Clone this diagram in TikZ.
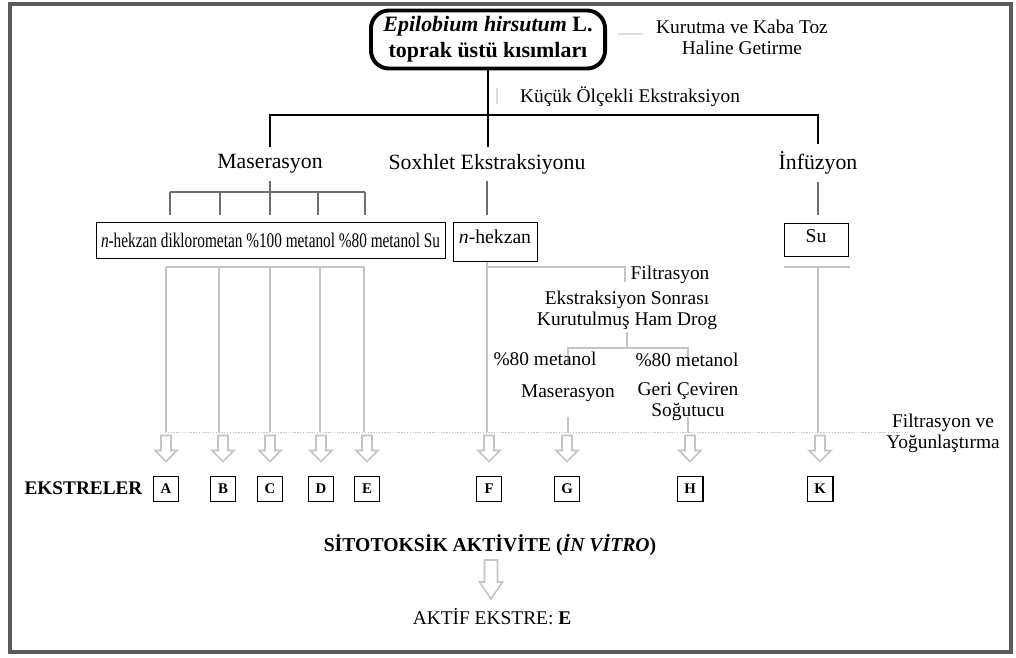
\documentclass[tikz,border=0pt]{standalone}
\usepackage{fontspec}
\usepackage{graphicx}
\setmainfont{Liberation Serif}
\usetikzlibrary{calc}
\definecolor{framegray}{HTML}{5A5A5A}
\definecolor{branchgray}{HTML}{6E6E6E}
\definecolor{filtgray}{HTML}{C4C4C4}
\definecolor{faintgray}{HTML}{DDDDDD}
\tikzset{
  blackline/.style={line width=2.1pt, black},
  darkline/.style={line width=2pt, branchgray},
  lightline/.style={line width=1.9pt, filtgray},
  dotline/.style={line width=0.6pt, filtgray, dash pattern=on 1pt off 1pt},
  faintline/.style={line width=0.8pt, faintgray},
  arrowline/.style={line width=1.1pt, filtgray, fill=white, line join=miter},
  method/.style={inner sep=5pt, font=\fontsize{15.5}{17}\selectfont},
  note/.style={inner sep=1pt, align=center, font=\fontsize{13.8}{15}\selectfont},
  solvbox/.style={draw, line width=0.6pt, inner sep=0pt, font=\fontsize{14}{16}\selectfont},
  extbox/.style={draw, line width=1.4pt, minimum size=0.625cm, inner sep=0pt,
    font=\bfseries\fontsize{10.5}{12}\selectfont},
  pics/hollowarrow/.style n args={4}{code={%
    \draw[arrowline] (-#1,0) -- (-#1,#3) -- (-#2,#3) -- (0,#4) -- (#2,#3) -- (#1,#3) -- (#1,0) -- cycle;}},
}
\begin{document}
\begin{tikzpicture}[x=0.025cm, y=-0.025cm]
  \useasboundingbox (0,0) rectangle (1016,657);
  % frame
  \draw[framegray, line width=2.5pt] (10,4) rectangle (1011,652);%

  % plant material
  \node[draw, line width=2.8pt, rounded corners=0.45cm, minimum width=5.85cm, minimum height=1.45cm,
        align=center, font=\bfseries\fontsize{15.6}{18.5}\selectfont] (plant) at (488,39.5)
        {\textit{Epilobium hirsutum} L.\\toprak üstü kısımları};%
  \node[note] (kurutma) at (742,37.5) {Kurutma ve Kaba Toz\\Haline Getirme};%
  \draw[faintline] (618,34) -- (643,34);%
  \node[note] (kucuk) at (630,97) {Küçük Ölçekli Ekstraksiyon};%
  \draw[faintline] (497,88) -- (497,104);%

  % extraction methods
  \node[method] (mas) at (270,164) {Maserasyon};%
  \node[method] (sox) at (487,164) {Soxhlet Ekstraksiyonu};%
  \node[method] (inf) at (818,163) {İnfüzyon};%
  \coordinate (split) at (488,115);
  \draw[blackline] (plant.south) -- (plant.south |- sox.north);%
  \draw[blackline] (mas.north) |- (split) -| (inf.north);%

  % solvents
  \node[solvbox, minimum width=8.725cm, minimum height=0.9cm] (mbox) at (270.5,240)
        {\fontsize{14.8}{16}\selectfont\scalebox{0.735}[1]{\textit{n}-hekzan diklorometan \%100 metanol \%80 metanol Su}};%
  \node[solvbox, minimum width=2.1cm, text height=0.53cm, text depth=0.445cm, anchor=north] (hbox) at (495,222) {\textit{n}-hekzan};%
  \node[solvbox, minimum width=1.6cm, text height=0.48cm, text depth=0.345cm, anchor=north] (subox) at (816,223) {Su};%
  \coordinate (solvtop) at (0,215);
  \coordinate (masbar) at (270,192);
  \draw[darkline] (mas.south) -- (masbar);%
  \draw[darkline] (170,192) -- (365,192);%
  \foreach \x in {170,220,270,318,365}
    \draw[darkline] (\x,192) -- (\x,215);%
  \draw[darkline] (sox.south) -- (sox.south |- solvtop);%
  \draw[darkline] (inf.south) -- (inf.south |- solvtop);%

  % filtration
  \coordinate (filtbar) at (0,267);
  \coordinate (filtlevel) at (0,432);
  \draw[dotline] (165,432) -- (908,432);%
  \draw[lightline] (166,267) -- (364,267);%
  \foreach \x in {166,219,270,320,364}
    \draw[lightline] (\x,267) -- (\x,432);%
  \draw[lightline] (sox.south |- hbox.south) -- (sox.south |- filtlevel);%
  \draw[lightline] (sox.south |- filtbar) -| (625,282);%
  \draw[lightline] (784,267) -- (850,267);%
  \draw[lightline] (inf.south |- filtbar) -- (inf.south |- filtlevel);%

  % post-extraction drug
  \node[note, anchor=west] (filt) at (629,275) {Filtrasyon};%
  \node[note] (drog) at (627,310.5) {Ekstraksiyon Sonrası\\Kurutulmuş Ham Drog};%
  \coordinate (drogsplit) at (627,348);
  \draw[lightline] (drog.south) -- (drogsplit);%
  \draw[lightline] (568,364) |- (drogsplit) -| (688,364);%
  \node[note] (met1) at (545,359) {\%80 metanol};%
  \node[note] (met2) at (687,360) {\%80 metanol};%
  \node[note] (masb) at (568,393) {Maserasyon};%
  \node[note] (geri) at (688,402) {Geri Çeviren\\Soğutucu};%
  \draw[lightline] (568,417) -- (568,432);%
  \draw[lightline] (688,417) -- (688,432);%
  \node[note] (yogun) at (943,433) {Filtrasyon ve\\Yoğunlaştırma};%

  % extracts
  \node[inner sep=0pt, font=\bfseries\fontsize{13.7}{15}\selectfont] (ekstreler) at (83.5,488) {EKSTRELER};%
  \foreach \l/\x in {A/166,B/223,C/270,D/321,E/367,F/489,G/567,H/690,K/820} {
    \node[extbox] (\l) at (\x,489) {\l};%
    \pic at ($(\l.north)+(0,-40)$) {hollowarrow={5}{11}{15}{26}};%
  }

  % activity
  \node[inner sep=0pt, font=\bfseries\fontsize{14}{16}\selectfont] (sito) at (490,545)
        {SİTOTOKSİK AKTİVİTE (\textit{İN VİTRO})};%
  \pic at (491,560) {hollowarrow={6.5}{11.5}{22}{39}};%
  \node[inner sep=0pt, font=\fontsize{13.8}{15}\selectfont] (aktif) at (492,617) {AKTİF EKSTRE: \textbf{E}};%
\end{tikzpicture}
\end{document}
